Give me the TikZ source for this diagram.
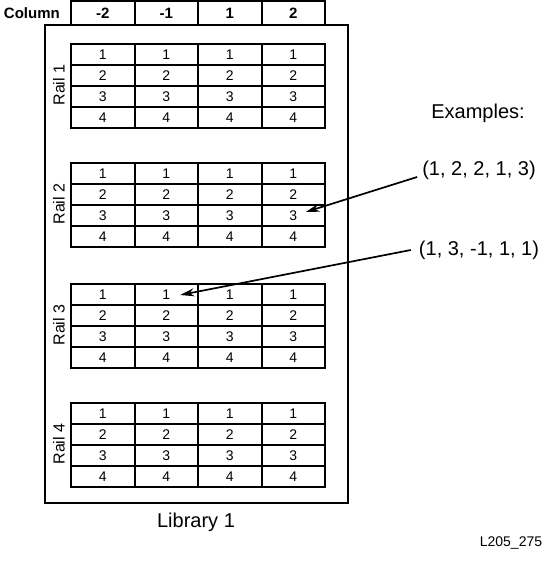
\documentclass[tikz,border=0pt]{standalone}
\usepackage{fontspec}
\setmainfont{Liberation Sans}
\usetikzlibrary{arrows.meta}

\newcommand*{\tabxmin}{71}
\newcommand*{\tabxmax}{325}
\newcommand*{\colw}{63.5}
\newcommand*{\rowh}{21}

\begin{document}
\begin{tikzpicture}
[
	x=1pt, y=-1pt,
	grid/.style={line width=2pt},
	cellnum/.style={inner sep=1pt, font=\fontsize{14}{16}\selectfont},
	headnum/.style={inner sep=1pt, font=\fontsize{15}{17}\selectfont\bfseries},
	raillabel/.style={rotate=90, inner sep=1pt, font=\fontsize{16}{18}\selectfont},
	bigtext/.style={inner sep=2pt, font=\fontsize{20}{24}\selectfont},
	pointer/.style={-{Stealth[length=14pt,width=8pt]}, line width=1.7pt},
]

	\useasboundingbox (0,0) rectangle (543,562);

	% library
	\draw[grid] (45,25) rectangle (348,503);
	\node[bigtext] at (196,522) (lib) {Library 1};

	% column header
	\draw[grid] (\tabxmin,1) rectangle (\tabxmax,25);
	\foreach \colno in {1,2,3}
		\draw[grid] (\tabxmin+\colno*\colw,1) -- (\tabxmin+\colno*\colw,25);
	\node[headnum, anchor=east] at (61,13) (collabel) {Column};
	\foreach \colno/\lab in {1/-2,2/-1,3/1,4/2}
		\node[headnum] at (\tabxmin+\colno*\colw-\colw/2,13) (head\colno) {\lab};

	% rails
	\foreach \railno/\ytop in {1/44,2/163,3/284,4/403}
	{
		\draw[grid] (\tabxmin,\ytop) rectangle (\tabxmax,\ytop+4*\rowh);
		\foreach \k in {1,2,3}
		{
			\draw[grid] (\tabxmin,\ytop+\k*\rowh) -- (\tabxmax,\ytop+\k*\rowh);
			\draw[grid] (\tabxmin+\k*\colw,\ytop) -- (\tabxmin+\k*\colw,\ytop+4*\rowh);
		}
		\node[raillabel] at (59,\ytop+41) (rail\railno) {Rail \railno};
		\foreach \colno in {1,...,4}
			\foreach \rowno in {1,...,4}
				\node[cellnum] at (\tabxmin+\colno*\colw-\colw/2,\ytop+\rowno*\rowh-\rowh/2)
					(r\railno-c\colno-n\rowno) {\rowno};
	}

	% examples
	\node[bigtext] at (478,113) (extitle) {Examples:};
	\node[bigtext] at (479,170) (ex1) {(1, 2, 2, 1, 3)};
	\node[bigtext] at (479,250) (ex2) {(1, 3, -1, 1, 1)};

	\draw[pointer] ([shift={(-3,7)}]ex1.west) -- ([shift={(12.5,-3.5)}]r2-c4-n3.center);
	\draw[pointer] ([shift={(-6,0)}]ex2.west) -- ([shift={(14,0.5)}]r3-c2-n1.center);

	\node[inner sep=1pt, font=\fontsize{14}{16}\selectfont] at (511,543) (figid) {L205\_275};

\end{tikzpicture}
\end{document}
